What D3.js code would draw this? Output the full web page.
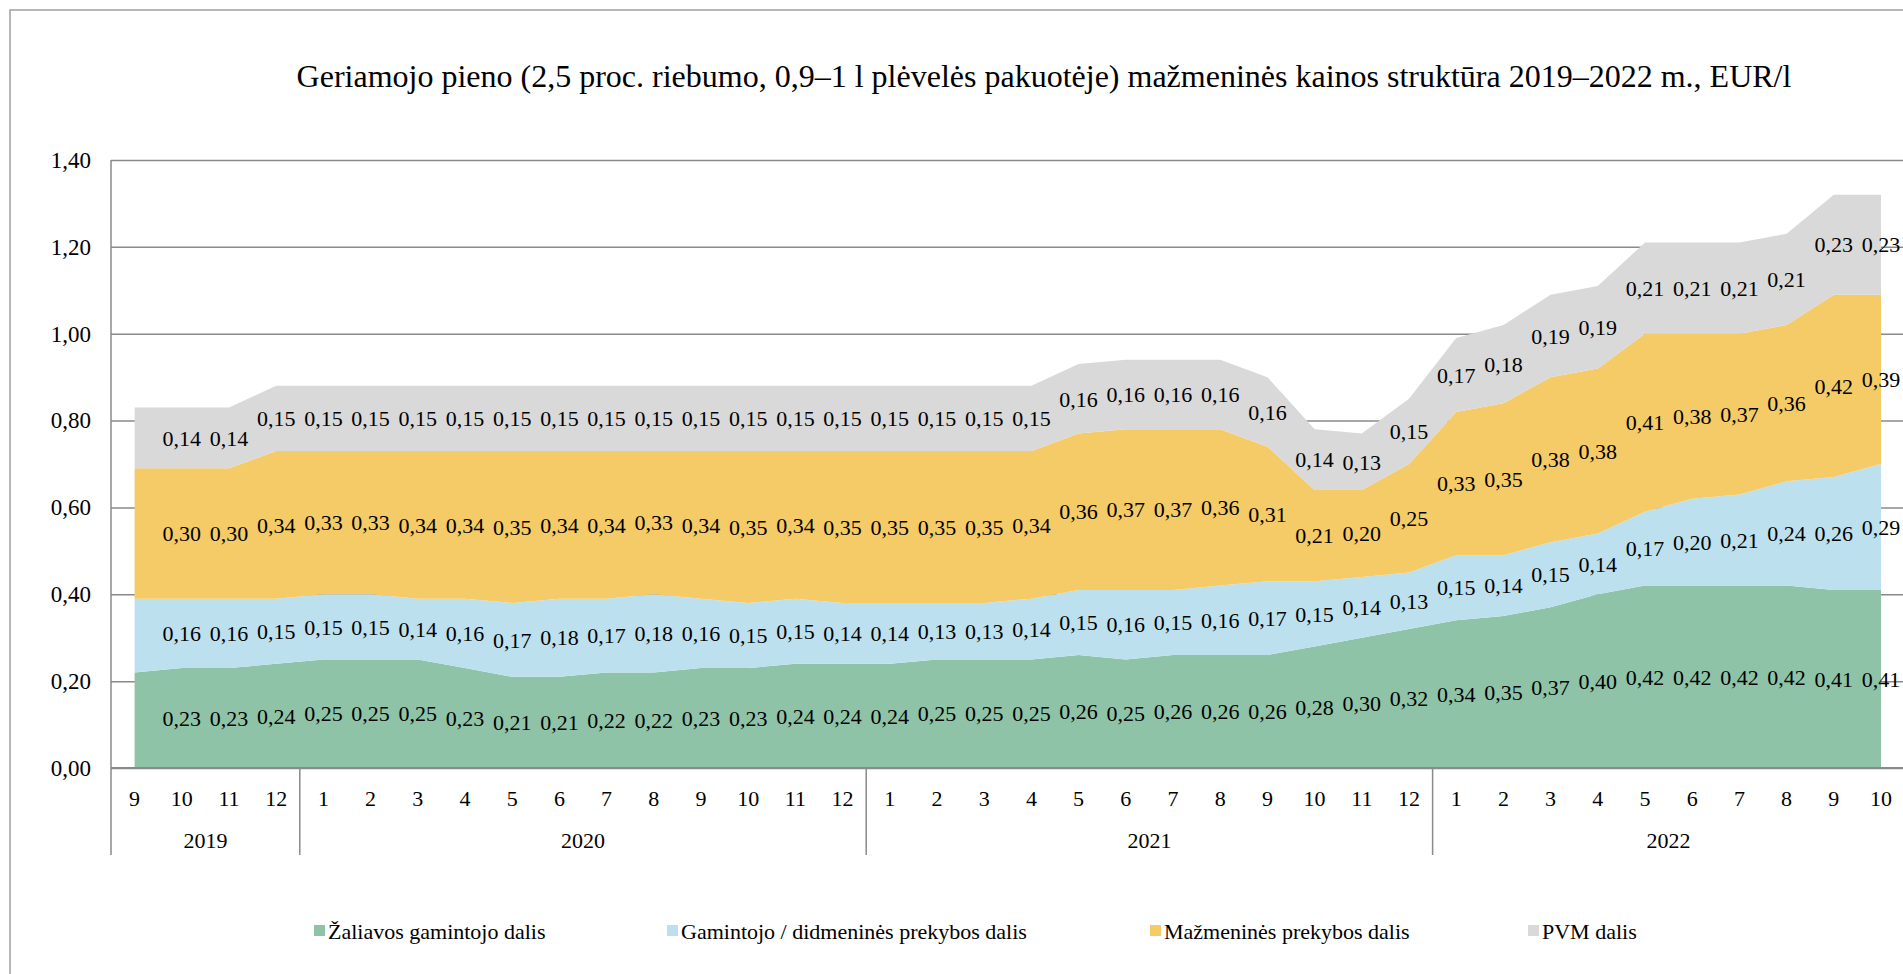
<!DOCTYPE html>
<html>
<head>
<meta charset="utf-8">
<script src="https://cdn.jsdelivr.net/npm/d3@7"></script>
<style>
  body { margin: 0; background: #fff; }
</style>
</head>
<body>
<svg id="chart" width="1903" height="974"></svg>
<script>
// Month labels along the axis (Sept 2019 - Oct 2022).
var months = ["9", "10", "11", "12",
    "1", "2", "3", "4", "5", "6", "7", "8", "9", "10", "11", "12",
    "1", "2", "3", "4", "5", "6", "7", "8", "9", "10", "11", "12",
    "1", "2", "3", "4", "5", "6", "7", "8", "9", "10"];
var yearLabels = ["2019", "2020", "2021", "2022"];
var yearCounts = [4, 12, 12, 10];

// Price components, EUR/l
var rawMilk = [0.22, 0.23, 0.23, 0.24,
    0.25, 0.25, 0.25, 0.23, 0.21, 0.21, 0.22, 0.22, 0.23, 0.23, 0.24, 0.24,
    0.24, 0.25, 0.25, 0.25, 0.26, 0.25, 0.26, 0.26, 0.26, 0.28, 0.30, 0.32,
    0.34, 0.35, 0.37, 0.40, 0.42, 0.42, 0.42, 0.42, 0.41, 0.41];
var wholesale = [0.17, 0.16, 0.16, 0.15,
    0.15, 0.15, 0.14, 0.16, 0.17, 0.18, 0.17, 0.18, 0.16, 0.15, 0.15, 0.14,
    0.14, 0.13, 0.13, 0.14, 0.15, 0.16, 0.15, 0.16, 0.17, 0.15, 0.14, 0.13,
    0.15, 0.14, 0.15, 0.14, 0.17, 0.20, 0.21, 0.24, 0.26, 0.29];
var retail = [0.30, 0.30, 0.30, 0.34,
    0.33, 0.33, 0.34, 0.34, 0.35, 0.34, 0.34, 0.33, 0.34, 0.35, 0.34, 0.35,
    0.35, 0.35, 0.35, 0.34, 0.36, 0.37, 0.37, 0.36, 0.31, 0.21, 0.20, 0.25,
    0.33, 0.35, 0.38, 0.38, 0.41, 0.38, 0.37, 0.36, 0.42, 0.39];
var vat = [0.14, 0.14, 0.14, 0.15,
    0.15, 0.15, 0.15, 0.15, 0.15, 0.15, 0.15, 0.15, 0.15, 0.15, 0.15, 0.15,
    0.15, 0.15, 0.15, 0.15, 0.16, 0.16, 0.16, 0.16, 0.16, 0.14, 0.13, 0.15,
    0.17, 0.18, 0.19, 0.19, 0.21, 0.21, 0.21, 0.21, 0.23, 0.23];

var seriesNames = ["Žaliavos gamintojo dalis", "Gamintojo / didmeninės prekybos dalis",
    "Mažmeninės prekybos dalis", "PVM dalis"];
var seriesColors = ["#8ec3a7", "#bde0ef", "#f4cb67", "#d9d9d9"];
var yTicks = [0, 0.2, 0.4, 0.6, 0.8, 1.0, 1.2, 1.4];

// layout
var margin = { left: 111, top: 160, bottom: 768 };
var band = 47.2;
var legendX = [314, 667, 1150, 1528];
var serif = "'Liberation Serif', 'Times New Roman', Times, serif";

var locale = d3.formatLocale({ decimal: ",", thousands: " ", grouping: [3], currency: ["", ""] });
var fmt = locale.format(".2f");

var svg = d3.select("#chart");

var x = d3.scaleBand()
    .domain(d3.range(months.length))
    .range([margin.left, margin.left + band * months.length]);
var y = d3.scaleLinear().domain([0, 1.4]).range([margin.bottom, margin.top]);
function cx(i) { return x(i) + x.bandwidth() / 2; }

// outer chart border (cut off on the right and bottom in the original)
svg.append("rect")
    .attr("x", 10).attr("y", 10)
    .attr("width", 2000).attr("height", 1000)
    .attr("fill", "none").attr("stroke", "#a0a0a0").attr("stroke-width", 1.5);

// title
svg.append("text")
    .attr("x", 1044).attr("y", 87)
    .attr("text-anchor", "middle")
    .style("font-size", "32px")
    .text("Geriamojo pieno (2,5 proc. riebumo, 0,9–1 l plėvelės pakuotėje) mažmeninės kainos struktūra 2019–2022 m., EUR/l");

// gridlines + y labels
var yAxis = svg.append("g")
    .attr("transform", "translate(" + margin.left + ",0)")
    .call(d3.axisLeft(y).tickValues(yTicks).tickFormat(fmt).tickSize(-1800).tickPadding(20));
yAxis.select(".domain").remove();
yAxis.selectAll("line").attr("stroke", "#8a8a8a").attr("stroke-width", 1.5);
yAxis.selectAll("text")
    .style("font-size", "23px")
    .attr("fill", "#000");

// stacked areas
var rows = months.map(function(m, i) {
    return { k0: rawMilk[i], k1: wholesale[i], k2: retail[i], k3: vat[i] };
});
var stack = d3.stack().keys(["k0", "k1", "k2", "k3"]);
var layers = stack(rows);

var area = d3.area()
    .x(function(d, i) { return cx(i); })
    .y0(function(d) { return y(d[0]); })
    .y1(function(d) { return y(d[1]); });

svg.append("g").selectAll("path")
    .data(layers)
    .enter().append("path")
    .attr("d", area)
    .attr("fill", function(d, i) { return seriesColors[i]; });

// zero line and category axis
svg.append("line")
    .attr("x1", margin.left).attr("x2", 1903)
    .attr("y1", y(0)).attr("y2", y(0))
    .attr("stroke", "#8a8a8a").attr("stroke-width", 2);

var sepY2 = 855;
var bounds = [0];
yearCounts.forEach(function(c, i) { bounds.push(bounds[i] + c); });

svg.append("g").selectAll("line")
    .data(bounds.slice(0, bounds.length - 1))
    .enter().append("line")
    .attr("x1", function(b) { return x(b); })
    .attr("x2", function(b) { return x(b); })
    .attr("y1", function(b) { return b === 0 ? margin.top : y(0); })
    .attr("y2", sepY2)
    .attr("stroke", "#8a8a8a").attr("stroke-width", 1.5);

svg.append("g").selectAll("text")
    .data(months)
    .enter().append("text")
    .attr("x", function(d, i) { return cx(i); })
    .attr("y", 798)
    .attr("dy", "0.35em")
    .attr("text-anchor", "middle")
    .style("font-size", "22px")
    .text(function(d) { return d; });

svg.append("g").selectAll("text")
    .data(yearLabels)
    .enter().append("text")
    .attr("x", function(d, i) {
        return (x(bounds[i]) + x(bounds[i + 1] - 1) + x.bandwidth()) / 2;
    })
    .attr("y", 840)
    .attr("dy", "0.35em")
    .attr("text-anchor", "middle")
    .style("font-size", "22px")
    .text(function(d) { return d; });

// data labels, in the middle of each band (first month has none)
layers.forEach(function(layer, s) {
    svg.append("g").selectAll("text")
        .data(layer.slice(1))
        .enter().append("text")
        .attr("x", function(d, i) { return cx(i + 1); })
        .attr("y", function(d) { return y((d[0] + d[1]) / 2); })
        .attr("dy", "0.35em")
        .attr("text-anchor", "middle")
        .style("font-size", "22px")
        .text(function(d) { return fmt(d[1] - d[0]); });
});

// legend
var legend = svg.append("g").selectAll("g")
    .data(seriesNames)
    .enter().append("g")
    .attr("transform", function(d, i) { return "translate(" + legendX[i] + ",931)"; });
legend.append("rect")
    .attr("x", 0).attr("y", -6)
    .attr("width", 11).attr("height", 11)
    .attr("fill", function(d, i) { return seriesColors[i]; });
legend.append("text")
    .attr("x", 14).attr("y", 0)
    .attr("dy", "0.35em")
    .style("font-size", "22px")
    .text(function(d) { return d; });

// same serif face everywhere
svg.selectAll("text")
    .style("font-family", serif)
    .attr("fill", "#000");
</script>
</body>
</html>
